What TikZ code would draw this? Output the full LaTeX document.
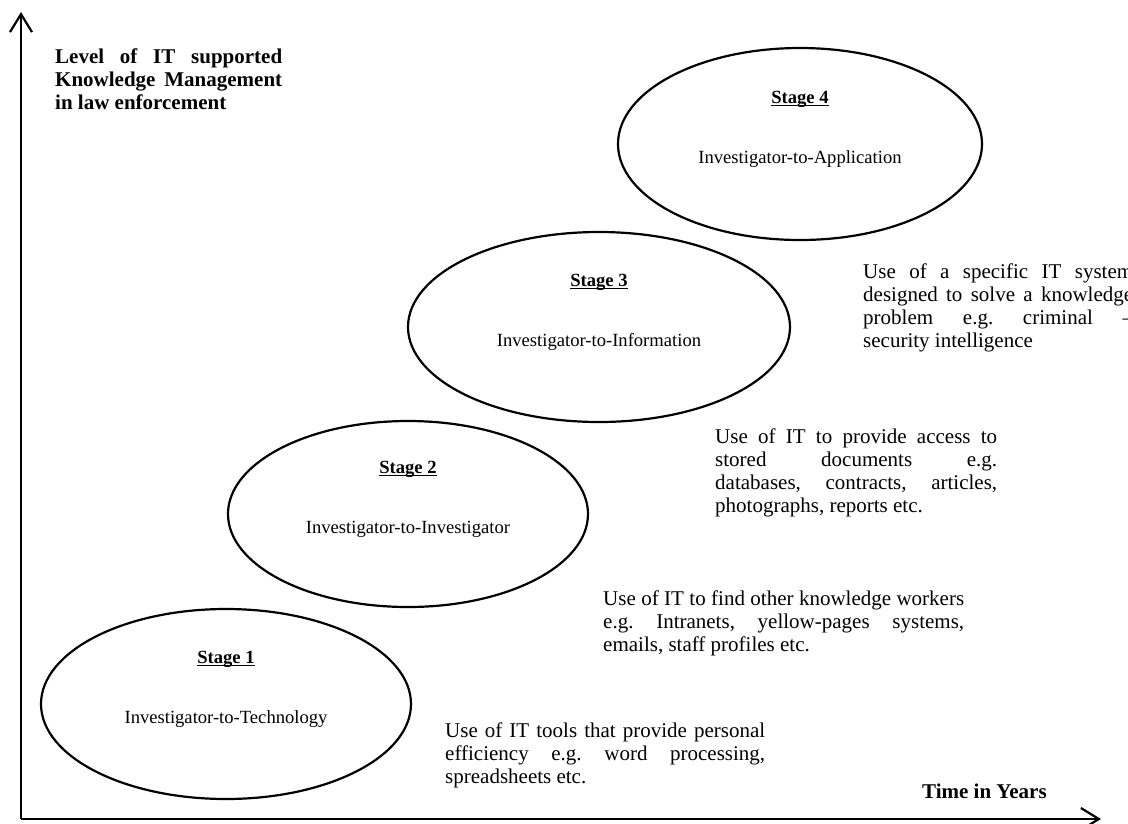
\documentclass[tikz,border=0pt]{standalone}
\usepackage{fontspec}
\setmainfont{Liberation Serif}
\usetikzlibrary{shapes.geometric,arrows.meta,calc}

% bold stage title with a heavy underline just below the baseline
\newcommand\stagetitle[1]{\sbox0{\bfseries #1}\rlap{\usebox0}\rule[-3.4pt]{\wd0}{1.5pt}}
% justified blocks with fixed line breaks and no hyphenation
\newcommand\parasetup{\frenchspacing\tolerance=10000\relax\hbadness=10000\relax
  \hyphenpenalty=10000\relax\exhyphenpenalty=10000\relax}

\begin{document}
\begin{tikzpicture}[x=1pt,y=-1pt,
  stage/.style={draw, line width=2.2pt, ellipse, inner sep=0pt},
  ttl/.style={font=\fontsize{18.6}{22}\selectfont, inner sep=0pt, anchor=base},
  para/.style={font=\fontsize{21}{23}\selectfont\parasetup,
    align=justify, inner sep=0pt, anchor=north west},
  axis/.style={line width=2.4pt},
  axtip/.style={-{Straight Barb[length=18pt,width=22pt,line width=2.2pt]}}
]
\useasboundingbox (0,0) rectangle (1128,823);
\fill[white] (0,0) rectangle (1128,823);
\clip (0,0) rectangle (1128,823);

% axes
\coordinate (O) at (21,819);
\coordinate (Ytop) at (21,12);
\coordinate (Xend) at (1101,819);
\draw[axis,axtip] (O) -- (Ytop);
\draw[axis,axtip] (O) -- (Xend);

\node[para, font=\bfseries\fontsize{21}{23}\selectfont\parasetup, text width=227pt] (ylab) at (55,49)
  {Level of IT supported\linebreak Knowledge Management\linebreak in law enforcement};
\node[font=\bfseries\fontsize{21}{23}\selectfont, anchor=base west, inner sep=0pt] (xlab) at (922,798) {Time in Years};

% the four stages
\node[stage, minimum width=370pt, minimum height=190pt] (s1) at (226,704) {};
\node[stage, minimum width=360pt, minimum height=186pt] (s2) at (408,514) {};
\node[stage, minimum width=382pt, minimum height=190pt] (s3) at (599,327) {};
\node[stage, minimum width=364pt, minimum height=192pt] (s4) at (800,144) {};

\node[ttl] (t1) at ($(s1.center)+(0,-41)$) {\stagetitle{Stage 1}};
\node[ttl] (n1) at ($(s1.center)+(0,19)$) {Investigator-to-Technology};
\node[ttl] (t2) at ($(s2.center)+(0,-41)$) {\stagetitle{Stage 2}};
\node[ttl] (n2) at ($(s2.center)+(0,19)$) {Investigator-to-Investigator};
\node[ttl] (t3) at ($(s3.center)+(0,-41)$) {\stagetitle{Stage 3}};
\node[ttl] (n3) at ($(s3.center)+(0,19)$) {Investigator-to-Information};
\node[ttl] (t4) at ($(s4.center)+(0,-41)$) {\stagetitle{Stage 4}};
\node[ttl] (n4) at ($(s4.center)+(0,19)$) {Investigator-to-Application};

% descriptions
\node[para, text width=320pt] (d1) at (445,723)
  {Use of IT tools that provide personal\linebreak efficiency e.g. word processing,\linebreak spreadsheets etc.};
\node[para, text width=361pt] (d2) at (603,591)
  {Use of IT to find other knowledge workers\linebreak e.g. Intranets, yellow-pages systems,\linebreak emails, staff profiles etc.};
\node[para, text width=282pt] (d3) at (715,429)
  {Use of IT to provide access to\linebreak stored documents e.g.\linebreak databases, contracts, articles,\linebreak photographs, reports etc.};
\node[para, text width=270pt] (d4) at (863,264)
  {Use of a specific IT system\linebreak designed to solve a knowledge\linebreak problem e.g. criminal --\linebreak security intelligence};
\end{tikzpicture}
\end{document}
